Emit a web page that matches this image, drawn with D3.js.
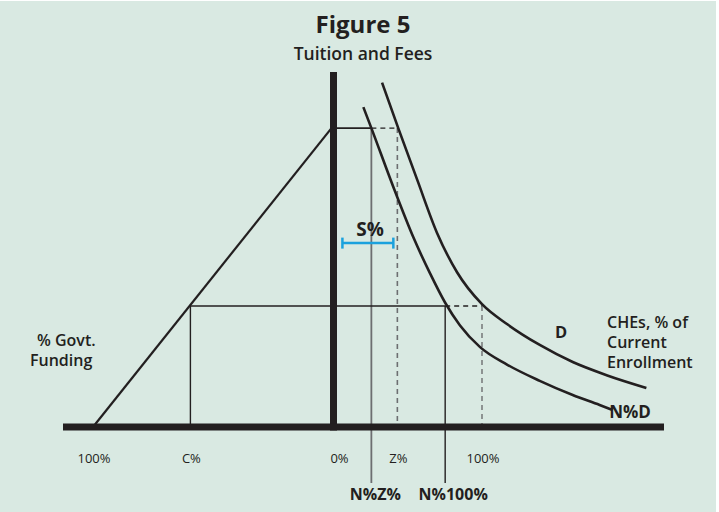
<!DOCTYPE html>
<html>
<head>
<meta charset="utf-8">
<script src="https://cdn.jsdelivr.net/npm/d3@7"></script>
<style>
  body { margin:0; background:#fff; }
  svg text { font-family:"Open Sans", "Noto Sans", sans-serif; fill:#231f20; }
</style>
</head>
<body>
<div class="canvas"></div>
<script>
const canvasWidth = 719,
canvasHeight = 512;

// tuition levels (0-100 scale)
const TUITION_HIGH = 84.2,
TUITION_LOW = 34.1;

// demand curve D : [enrollment %, tuition]
const D_CURVE = [[32.7,97.0],[43.6,84.2],[56.4,69.6],[69.8,54.6],[83.2,43.6],[100,34.6],
  [116.8,29.0],[138.9,23.1],[161.1,18.3],[183.9,14.6],[210.7,11.0]];
// N%D curve
const ND_CURVE = [[20.1,90.1],[25.5,84.2],[40.3,67.6],[53.7,53.5],[65.1,43.2],[75.2,35.0],
  [85.2,28.6],[98.7,22.5],[116.8,17.6],[138.9,13.0],[161.1,9.0],[179.2,6.2],[187.9,4.8]];

// govt funding side
const GOVT_FULL = 100, GOVT_C = 59.5;
// enrollment side
const ENR_Z = 43, ENR_NZ = 25.5, ENR_N100 = 75.2, ENR_FULL = 100;
const S_RANGE = [6, 40.3], S_LEVEL = 51.8;

const tickLabels = [
  {side:"govt", v:GOVT_FULL, label:"100%"},
  {side:"govt", v:GOVT_C, label:"C%"},
  {side:"enr", v:0, label:"0%"},
  {side:"enr", v:ENR_Z, label:"Z%"},
  {side:"enr", v:ENR_FULL, label:"100%"}
];
const bottomLabels = [
  {v:ENR_NZ, label:"N%Z%"},
  {v:ENR_N100, label:"N%100%"}
];

const originX = 333.5, baseY = 427;
const enrScale = d3.scaleLinear().domain([0,100]).range([originX, 482]);
const govtScale = d3.scaleLinear().domain([0,100]).range([originX, 93]);
const yScale = d3.scaleLinear().domain([0,100]).range([baseY, 72]);
const xOf = d => d.side == "govt" ? govtScale(d.v) : enrScale(d.v);

const ink = "#231f20", grey = "#6d6e71";

const svg = d3.select(".canvas").append("svg")
  .attr("width", canvasWidth)
  .attr("height", canvasHeight);

svg.append("rect").attr("x",0).attr("y",1).attr("width",716).attr("height",canvasHeight)
  .attr("fill","#d9e9e2");

// titles
svg.append("text").attr("x",363).attr("y",33).attr("text-anchor","middle")
  .style("font-size","24px").style("font-weight","700").text("Figure 5");
svg.append("text").attr("x",363).attr("y",60).attr("text-anchor","middle")
  .style("font-size","17.5px").style("font-weight","600").text("Tuition and Fees");

// govt funding line
svg.append("line")
  .attr("x1", govtScale(GOVT_FULL)).attr("y1", yScale(0))
  .attr("x2", govtScale(0)-2).attr("y2", yScale(TUITION_HIGH))
  .attr("stroke", ink).attr("stroke-width", 2.2);

// guide lines
const guides = [
  [govtScale(0), yScale(TUITION_HIGH), enrScale(ENR_NZ), yScale(TUITION_HIGH), ink, null, 1.6],
  [enrScale(ENR_NZ), yScale(TUITION_HIGH), enrScale(ENR_Z), yScale(TUITION_HIGH), ink, "5,4", 1.4],
  [enrScale(ENR_NZ), yScale(TUITION_HIGH), enrScale(ENR_NZ), 483, grey, null, 1.8],
  [enrScale(ENR_Z), yScale(TUITION_HIGH), enrScale(ENR_Z), yScale(0), grey, "5,4", 1.6],
  [govtScale(GOVT_C), yScale(TUITION_LOW), enrScale(ENR_N100), yScale(TUITION_LOW), ink, null, 1.4],
  [enrScale(ENR_N100), yScale(TUITION_LOW), enrScale(ENR_FULL), yScale(TUITION_LOW), ink, "5,4", 1.4],
  [govtScale(GOVT_C), yScale(TUITION_LOW), govtScale(GOVT_C), yScale(0), ink, null, 1.4],
  [enrScale(ENR_N100), yScale(TUITION_LOW), enrScale(ENR_N100), 483, ink, null, 1.4],
  [enrScale(ENR_FULL), yScale(TUITION_LOW), enrScale(ENR_FULL), yScale(0), grey, "5,4", 1.4]
];
svg.selectAll(".guide").data(guides).enter().append("line")
  .attr("class","guide")
  .attr("x1", d=>d[0]).attr("y1", d=>d[1]).attr("x2", d=>d[2]).attr("y2", d=>d[3])
  .attr("stroke", d=>d[4]).attr("stroke-dasharray", d=>d[5]).attr("stroke-width", d=>d[6]);

// curves
const line = d3.line().x(d=>enrScale(d[0])).y(d=>yScale(d[1])).curve(d3.curveMonotoneX);
[D_CURVE, ND_CURVE].forEach(c => {
  svg.append("path").attr("d", line(c)).attr("fill","none")
    .attr("stroke", ink).attr("stroke-width", 2.6);
});

// axes
svg.append("rect").attr("x", originX-3.5).attr("y", 72).attr("width", 7).attr("height", baseY+3.5-72)
  .attr("fill", ink);
svg.append("rect").attr("x", 63).attr("y", baseY-3.5).attr("width", 664-63).attr("height", 7)
  .attr("fill", ink);

// S% bracket
const sy = yScale(S_LEVEL), blue = "#1ba1dd";
svg.append("line").attr("x1", enrScale(S_RANGE[0])).attr("x2", enrScale(S_RANGE[1]))
  .attr("y1", sy).attr("y2", sy).attr("stroke", blue).attr("stroke-width", 2.5);
S_RANGE.forEach(v => {
  svg.append("line").attr("x1", enrScale(v)).attr("x2", enrScale(v))
    .attr("y1", sy-5.5).attr("y2", sy+5.5).attr("stroke", blue).attr("stroke-width", 2.5);
});
svg.append("text").attr("x", 370).attr("y", 236).attr("text-anchor","middle")
  .style("font-size","19px").style("font-weight","700").text("S%");

// tick labels
svg.selectAll(".tick").data(tickLabels).enter().append("text")
  .attr("class","tick")
  .attr("x", d=> xOf(d) + (d.v==0 ? 6 : 1)).attr("y", 463).attr("text-anchor","middle")
  .style("font-size","13px").style("font-weight","400").text(d=>d.label);

svg.selectAll(".blab").data(bottomLabels).enter().append("text")
  .attr("class","blab")
  .attr("x", (d,i)=> enrScale(d.v) + (i==0 ? 4 : 8)).attr("y", 500).attr("text-anchor","middle")
  .style("font-size","16px").style("font-weight","700").text(d=>d.label);

// curve labels
svg.append("text").attr("x", 561).attr("y", 338).attr("text-anchor","middle")
  .style("font-size","16.5px").style("font-weight","700").text("D");
svg.append("text").attr("x", 630).attr("y", 418).attr("text-anchor","middle")
  .style("font-size","17px").style("font-weight","700").text("N%D");

// side notes
const rightNote = ["CHEs, % of", "Current", "Enrollment"];
svg.selectAll(".rn").data(rightNote).enter().append("text")
  .attr("class","rn").attr("x", 607).attr("y", (d,i)=>328+i*20)
  .style("font-size","16px").style("font-weight","600").text(d=>d);
const leftNote = [["% Govt.", 37, 346], ["Funding", 30, 366]];
svg.selectAll(".ln").data(leftNote).enter().append("text")
  .attr("class","ln").attr("x", d=>d[1]).attr("y", d=>d[2])
  .style("font-size","16px").style("font-weight","600").text(d=>d[0]);
</script>
</body>
</html>
